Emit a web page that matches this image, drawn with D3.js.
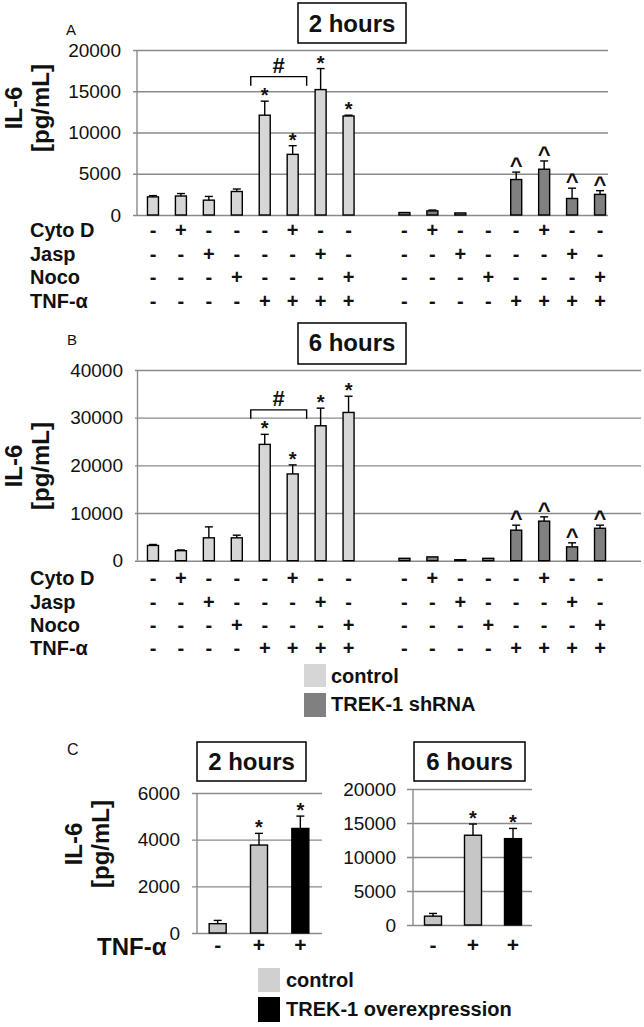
<!DOCTYPE html>
<html><head><meta charset="utf-8">
<script src="https://cdn.jsdelivr.net/npm/d3@7"></script>
<style>
html,body{margin:0;padding:0;background:#fff;}
svg text{font-family:"Liberation Sans",Arial,sans-serif;fill:#111;}
</style></head>
<body>
<svg id="chart" width="644" height="1027"></svg>
<script>
// ---------- DATA ----------
const slots = ["c1","c2","c3","c4","c5","c6","c7","c8","gap","s1","s2","s3","s4","s5","s6","s7","s8"];
const controlSlots = ["c1","c2","c3","c4","c5","c6","c7","c8"];
const shrnaSlots = ["s1","s2","s3","s4","s5","s6","s7","s8"];
const rowLabels = ["Cyto D","Jasp","Noco","TNF-α"];
const cytoD = ["-","+","-","-","-","+","-","-"];
const jasp  = ["-","-","+","-","-","-","+","-"];
const noco  = ["-","-","-","+","-","-","-","+"];
const tnf   = ["-","-","-","-","+","+","+","+"];

const ticksA = [0,5000,10000,15000,20000];
const aControl    = [2200, 2300, 1800, 2850, 12100, 7350, 15200, 12000];
const aControlErr = [150, 300, 450, 300, 1700, 1050, 2550, 100];
const aShrna      = [300, 500, 250, 0, 4300, 5550, 2000, 2500];
const aShrnaErr   = [0, 100, 0, 0, 900, 1000, 1250, 450];

const ticksB = [0,10000,20000,30000,40000];
const bControl    = [3200, 2100, 4800, 4800, 24400, 18200, 28300, 31100];
const bControlErr = [200, 150, 2300, 550, 2100, 1900, 3700, 3400];
const bShrna      = [500, 800, 200, 500, 6400, 8300, 2900, 6800];
const bShrnaErr   = [0, 0, 0, 0, 1050, 900, 850, 650];

const controlMarks = ["","","","","*","*","*","*"];
const shrnaMarks   = ["","","","","^","^","^","^"];

const cSlots = ["k1","k2","k3"];
const cTnf = ["-","+","+"];
const cGroup = ["control","control","over"];
const ticksC2 = [0,2000,4000,6000];
const c2Values = [400, 3770, 4480];
const c2Err    = [140, 500, 530];
const ticksC6 = [0,5000,10000,15000,20000];
const c6Values = [1300, 13200, 12700];
const c6Err    = [400, 1650, 1500];
const cMarks = ["","*","*"];

// ---------- STYLE ----------
const colControl = "#d6d6d6", colShrna = "#808080", colCControl = "#c6c6c6", colOver = "#000";
const gridCol = "#8a8a8a";

const svg = d3.select("#chart");

function drawAxis(g, y, ticks, gridL, gridR, axisX, labelRight, fs) {
  const ax = d3.axisLeft(y).tickValues(ticks).tickSizeInner(-(gridR-gridL)).tickSizeOuter(0)
    .tickPadding(gridL-labelRight).tickFormat(d3.format("d"));
  const a = g.append("g").attr("transform", `translate(${gridL},0)`).call(ax);
  a.select(".domain").remove();
  a.selectAll(".tick line").attr("stroke", gridCol).attr("stroke-width", 1.4);
  a.selectAll(".tick text").attr("font-size", fs).attr("fill","#222")
    .attr("font-family",'"Liberation Sans",Arial,sans-serif');
  g.append("line").attr("x1",axisX).attr("x2",axisX)
    .attr("y1",y(ticks[0])).attr("y2",y(ticks[ticks.length-1]))
    .attr("stroke",gridCol).attr("stroke-width",1.4);
}

function drawBars(g, x, y, keys, vals, errs, marks, fill, bw) {
  keys.forEach((k,i)=>{
    const cx = x(k) + x.bandwidth()/2;
    const v = vals[i], e = errs[i];
    if (v > 0) {
      g.append("rect").attr("x", cx-bw/2).attr("y", y(v)).attr("width", bw)
        .attr("height", Math.max(0.5, y(0)-y(v))).attr("fill", fill)
        .attr("stroke","#000").attr("stroke-width",1.4);
    }
    if (e > 0) {
      g.append("line").attr("x1",cx).attr("x2",cx).attr("y1",y(v)).attr("y2",y(v+e))
        .attr("stroke","#000").attr("stroke-width",1.4);
      g.append("line").attr("x1",cx-4).attr("x2",cx+4).attr("y1",y(v+e)).attr("y2",y(v+e))
        .attr("stroke","#000").attr("stroke-width",1.4);
    }
    if (marks[i]) {
      const isStar = marks[i]==="*";
      g.append("text").attr("x",cx).attr("y",y(v+e)+1)
        .attr("text-anchor","middle").attr("font-size",isStar?20:22).attr("font-weight","bold").text(marks[i]);
    }
  });
}

function drawTable(g, x, baselines) {
  const rows = [cytoD, jasp, noco, tnf];
  rows.forEach((r,ri)=>{
    g.append("text").attr("x",30).attr("y",baselines[ri]).attr("font-size",20)
      .attr("font-weight","bold").text(rowLabels[ri]);
    [controlSlots, shrnaSlots].forEach(keys=>{
      keys.forEach((k,i)=>{
        g.append("text").attr("x", x(k)+x.bandwidth()/2).attr("y", baselines[ri])
          .attr("text-anchor","middle").attr("font-size",20).attr("font-weight","bold").text(r[i]);
      });
    });
  });
}

function titleBox(x0, y0, w, h, base, label) {
  svg.append("rect").attr("x",x0).attr("y",y0).attr("width",w).attr("height",h)
    .attr("fill","#fff").attr("stroke","#000").attr("stroke-width",1.5);
  svg.append("text").attr("x",x0+w/2).attr("y",base).attr("text-anchor","middle")
    .attr("font-size",24).attr("font-weight","bold").text(label);
}

function yLabel(xIL, xPg, cy) {
  svg.append("text").attr("transform",`translate(${xIL},${cy}) rotate(-90)`).attr("text-anchor","middle")
    .attr("font-size",24).attr("font-weight","bold").text("IL-6");
  svg.append("text").attr("transform",`translate(${xPg},${cy}) rotate(-90)`).attr("text-anchor","middle")
    .attr("font-size",24).attr("font-weight","bold").text("[pg/mL]");
}

function bracket(g, x, y, topVal, k1, k2) {
  const x1 = x(k1), x2 = x(k2) + x.bandwidth();
  const yy = y(topVal) - 24.5;
  g.append("path").attr("d",`M${x1},${yy+9}V${yy}H${x2}V${yy+9}`)
    .attr("fill","none").attr("stroke","#000").attr("stroke-width",1.4);
  g.append("text").attr("x",(x1+x2)/2).attr("y",yy-3.5).attr("text-anchor","middle")
    .attr("font-size",22).attr("font-weight","bold").text("#");
}

// ---------- PANEL A ----------
const xAB = d3.scaleBand().domain(slots).range([139, 614]).padding(0);
const yA = d3.scaleLinear().domain([0,20000]).range([215,50]);
const gA = svg.append("g");
svg.append("text").attr("x",66).attr("y",35).attr("font-size",15).attr("fill","#333").text("A");
titleBox(298, 3, 108, 40, 32, "2 hours");
yLabel(22, 49, 108);
drawAxis(gA, yA, ticksA, 133, 608, 137, 121, 19);
drawBars(gA, xAB, yA, controlSlots, aControl, aControlErr, controlMarks, colControl, 11);
drawBars(gA, xAB, yA, shrnaSlots, aShrna, aShrnaErr, shrnaMarks, colShrna, 11);
bracket(gA, xAB, yA, aControl[4]+aControlErr[4], "c5", "c6");
drawTable(gA, xAB, [237, 260.5, 284, 307.5]);

// ---------- PANEL B ----------
const yB = d3.scaleLinear().domain([0,40000]).range([560.7,370]);
const gB = svg.append("g");
svg.append("text").attr("x",67).attr("y",345).attr("font-size",15).attr("fill","#333").text("B");
titleBox(298, 323, 108, 41, 351, "6 hours");
yLabel(22, 49, 466);
drawAxis(gB, yB, ticksB, 135, 641, 137.5, 123, 19);
drawBars(gB, xAB, yB, controlSlots, bControl, bControlErr, controlMarks, colControl, 11);
drawBars(gB, xAB, yB, shrnaSlots, bShrna, bShrnaErr, shrnaMarks, colShrna, 11);
bracket(gB, xAB, yB, bControl[4]+bControlErr[4], "c5", "c6");
drawTable(gB, xAB, [585, 608.5, 632, 655]);

// legend B
const legB = [["control", colControl, 664, 23, 683], ["TREK-1 shRNA", colShrna, 693, 24, 711]];
legB.forEach(d=>{
  svg.append("rect").attr("x",304).attr("y",d[2]).attr("width",22).attr("height",d[3]).attr("fill",d[1]);
  svg.append("text").attr("x",331).attr("y",d[4]).attr("font-size",20).attr("font-weight","bold").text(d[0]);
});

// ---------- PANEL C ----------
svg.append("text").attr("x",67).attr("y",755).attr("font-size",16).attr("fill","#333").text("C");
titleBox(197, 742, 109, 39, 770, "2 hours");
titleBox(414, 742, 111, 39, 770, "6 hours");
yLabel(82, 109, 844);

const cFill = cGroup.map(g=> g==="control" ? colCControl : colOver);
function drawCPanel(range, y, ticks, vals, errs, gridL, gridR, axisX, labelRight) {
  const x = d3.scaleBand().domain(cSlots).range(range).padding(0);
  const g = svg.append("g");
  drawAxis(g, y, ticks, gridL, gridR, axisX, labelRight, 19);
  cSlots.forEach((k,i)=>{
    drawBars(g, x, y, [k], [vals[i]], [errs[i]], [cMarks[i]], cFill[i], 17);
    g.append("text").attr("x",x(k)+x.bandwidth()/2).attr("y",952).attr("text-anchor","middle")
      .attr("font-size",21).attr("font-weight","bold").text(cTnf[i]);
  });
}
drawCPanel([197, 321], d3.scaleLinear().domain([0,6000]).range([933,793]), ticksC2, c2Values, c2Err, 192, 322, 197, 180);
drawCPanel([413, 533], d3.scaleLinear().domain([0,20000]).range([925,789]), ticksC6, c6Values, c6Err, 407, 532, 413, 396);
svg.append("text").attr("x",97).attr("y",955).attr("font-size",24).attr("font-weight","bold").text("TNF-α");

// legend C
const legC = [["control", "#d0d0d0", 968, 24, 987], ["TREK-1 overexpression", colOver, 997, 25, 1016]];
legC.forEach(d=>{
  svg.append("rect").attr("x",258).attr("y",d[2]).attr("width",22).attr("height",d[3]).attr("fill",d[1]);
  svg.append("text").attr("x",286).attr("y",d[4]).attr("font-size",20).attr("font-weight","bold").text(d[0]);
});
</script>
</body></html>
